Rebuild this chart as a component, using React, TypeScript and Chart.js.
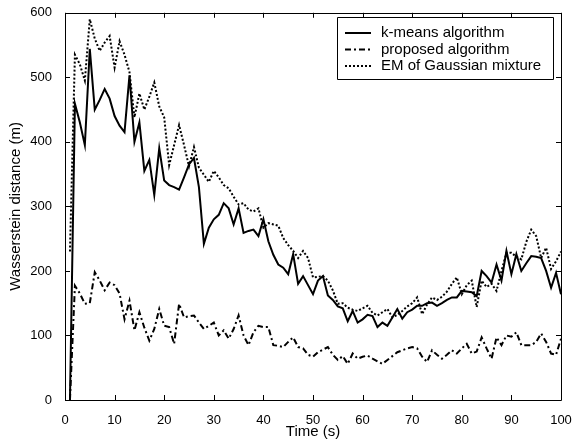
import React, { useEffect, useRef } from "react";
import { Chart, registerables } from "chart.js";

Chart.register(...registerables);

const times: number[] = Array.from({ length: 100 }, (_, i) => i + 1);

const kmeans: number[] = [
  0, 459, 430, 395, 544, 450, 465, 482, 467, 440,
  425, 415, 503, 400, 430, 355, 372, 318, 390, 340,
  333, 330, 326, 345, 365, 375, 330, 242, 267, 280,
  287, 305, 297, 272, 297, 259, 262, 264, 254, 280,
  246, 225, 210, 205, 195, 226, 180, 192, 178, 164,
  185, 192, 162, 155, 145, 142, 122, 138, 120, 125,
  132, 130, 113, 120, 115, 128, 141, 126, 136, 140,
  146, 146, 150, 151, 146, 150, 155, 159, 159, 169,
  168, 167, 161, 200, 192, 182, 210, 185, 231, 195,
  226, 200, 212, 223, 222, 220, 200, 174, 197, 164,
];

const proposed: number[] = [
  0, 177, 165, 149, 150, 198, 185, 170, 182, 178,
  165, 125, 154, 108, 136, 112, 92, 110, 141, 115,
  113, 87, 149, 128, 130, 131, 120, 110, 115, 120,
  100, 108, 95, 110, 131, 100, 85, 105, 115, 113,
  113, 85, 84, 82, 90, 97, 82, 80, 70, 67,
  74, 78, 82, 70, 62, 68, 56, 72, 64, 67,
  69, 64, 60, 56, 62, 68, 74, 77, 80, 82,
  80, 67, 59, 77, 70, 64, 70, 77, 72, 80,
  87, 72, 75, 97, 80, 64, 97, 85, 100, 98,
  105, 85, 85, 85, 90, 103, 90, 72, 70, 95,
];

const emGauss: number[] = [
  230, 535, 520, 495, 590, 560, 541, 554, 564, 515,
  556, 535, 508, 438, 475, 450, 470, 492, 455, 438,
  364, 395, 426, 395, 362, 392, 360, 349, 338, 355,
  345, 333, 328, 315, 303, 305, 295, 292, 297, 267,
  274, 272, 270, 251, 240, 231, 220, 231, 220, 190,
  191, 192, 185, 170, 149, 150, 143, 140, 138, 142,
  146, 135, 131, 136, 141, 128, 132, 138, 145, 150,
  159, 133, 148, 159, 155, 160, 168, 180, 190, 164,
  178, 185, 144, 185, 175, 180, 169, 200, 228, 228,
  222, 218, 245, 264, 254, 220, 236, 203, 215, 230,
];

const seriesNames: string[] = ["k-means algorithm", "proposed algorithm", "EM of Gaussian mixture"];
const xTicks: number[] = [0, 10, 20, 30, 40, 50, 60, 70, 80, 90, 100];
const yTicks: number[] = [0, 100, 200, 300, 400, 500, 600];

const FONT = "Liberation Sans, Arial, sans-serif";

const boxPlugin = {
  id: "matlabBox",
  afterDraw(chart: any) {
    const { ctx, chartArea, scales } = chart;
    const { left, right, top, bottom } = chartArea;
    ctx.save();
    ctx.strokeStyle = "#000";
    ctx.lineWidth = 1;
    ctx.beginPath();
    ctx.rect(Math.round(left) + 0.5, Math.round(top) + 0.5, Math.round(right - left), Math.round(bottom - top));
    ctx.stroke();
    const tl = 5;
    ctx.beginPath();
    xTicks.forEach((v) => {
      const x = Math.round(scales.x.getPixelForValue(v)) + 0.5;
      ctx.moveTo(x, bottom);
      ctx.lineTo(x, bottom - tl);
      ctx.moveTo(x, top);
      ctx.lineTo(x, top + tl);
    });
    yTicks.forEach((v) => {
      const y = Math.round(scales.y.getPixelForValue(v)) + 0.5;
      ctx.moveTo(left, y);
      ctx.lineTo(left + tl, y);
      ctx.moveTo(right, y);
      ctx.lineTo(right - tl, y);
    });
    ctx.stroke();

    // legend
    const lx = 337, ly = 17, lw = 216, lh = 62;
    ctx.fillStyle = "#fff";
    ctx.fillRect(lx, ly, lw, lh);
    ctx.beginPath();
    ctx.rect(lx + 0.5, ly + 0.5, lw, lh);
    ctx.stroke();
    const ds = chart.data.datasets;
    ds.forEach((d: any, i: number) => {
      const y = ly + 16 + i * 16.5;
      ctx.save();
      ctx.strokeStyle = "#000";
      ctx.lineWidth = d.borderWidth;
      ctx.setLineDash(d.borderDash || []);
      ctx.beginPath();
      ctx.moveTo(lx + 8, y);
      ctx.lineTo(lx + 34, y);
      ctx.stroke();
      ctx.restore();
      ctx.fillStyle = "#000";
      ctx.font = `15px ${FONT}`;
      ctx.textBaseline = "middle";
      ctx.textAlign = "left";
      ctx.fillText(seriesNames[i], lx + 44, y);
    });
    ctx.restore();
  },
};

export default function App() {
  const ref = useRef<HTMLCanvasElement | null>(null);
  useEffect(() => {
    document.body.style.margin = "0";
    const canvas = ref.current!;
    const chart = new Chart(canvas, {
      type: "line",
      data: {
        datasets: [
          {
            label: seriesNames[0],
            data: times.map((t, i) => ({ x: t, y: kmeans[i] })),
            borderColor: "#000",
            borderWidth: 2,
            pointRadius: 0,
            tension: 0,
          },
          {
            label: seriesNames[1],
            data: times.map((t, i) => ({ x: t, y: proposed[i] })),
            borderColor: "#000",
            borderWidth: 2,
            borderDash: [6, 3, 2, 3],
            pointRadius: 0,
            tension: 0,
          },
          {
            label: seriesNames[2],
            data: times.map((t, i) => ({ x: t, y: emGauss[i] })),
            borderColor: "#000",
            borderWidth: 2,
            borderDash: [2, 2],
            pointRadius: 0,
            tension: 0,
          },
        ],
      },
      options: {
        responsive: false,
        animation: false,
        devicePixelRatio: 1,
        layout: { padding: { left: 3, right: 17, top: 10, bottom: 0 } },
        plugins: { legend: { display: false }, tooltip: { enabled: false } },
        scales: {
          x: {
            type: "linear",
            min: 0,
            max: 100,
            afterBuildTicks: (s: any) => {
              s.ticks = xTicks.map((v) => ({ value: v }));
            },
            ticks: { color: "#000", font: { family: FONT, size: 13 }, padding: 5, maxRotation: 0 },
            grid: { display: false },
            border: { display: false },
            title: { display: true, text: "Time (s)", color: "#000", font: { family: FONT, size: 15 }, padding: { top: 0, bottom: 2 } },
            afterFit: (s: any) => {
              s.height = 43;
            },
          },
          y: {
            min: 0,
            max: 600,
            afterBuildTicks: (s: any) => {
              s.ticks = yTicks.map((v) => ({ value: v }));
            },
            ticks: { color: "#000", font: { family: FONT, size: 13 }, padding: 5 },
            grid: { display: false },
            border: { display: false },
            title: { display: true, text: "Wasserstein distance (m)", color: "#000", font: { family: FONT, size: 15 }, padding: { top: 4, bottom: 4 } },
            afterFit: (s: any) => {
              s.width = 62;
            },
          },
        },
      },
      plugins: [boxPlugin],
    });
    return () => chart.destroy();
  }, []);
  return (
    <div style={{ position: "fixed", left: 0, top: 0, width: 578, height: 443, background: "#fff" }}>
      <canvas ref={ref} width={578} height={443} />
    </div>
  );
}
